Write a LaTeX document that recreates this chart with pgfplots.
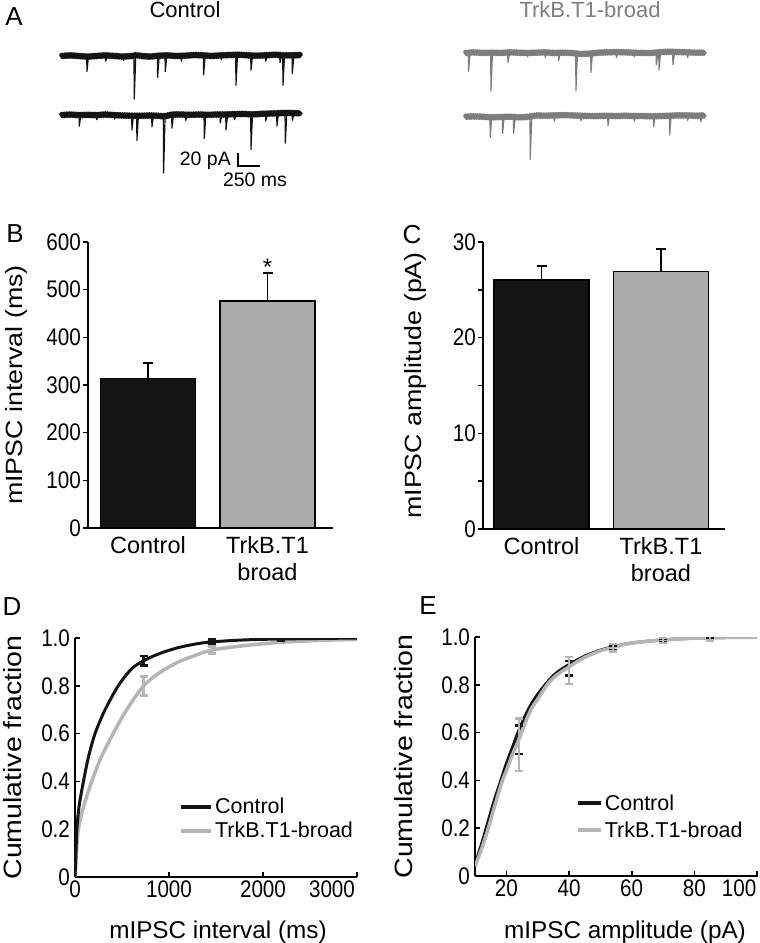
\documentclass[border=0pt]{standalone}
\usepackage{fontspec}
\setmainfont{Liberation Sans}
\newfontfamily\narrowfont[FakeStretch=0.86]{Liberation Sans}
\newfontfamily\tallfont[FakeStretch=1.14]{Liberation Sans}
\usepackage{pgfplots}
\pgfplotsset{compat=1.18}
\usetikzlibrary{decorations.pathmorphing}

\definecolor{ctrl}{HTML}{141414}
\definecolor{trkbar}{HTML}{ABABAB}
\definecolor{trktrace}{HTML}{7D7D7D}
\definecolor{trkline}{HTML}{B5B5B5}

\newcommand{\fs}[1]{\fontsize{#1}{#1}\selectfont}

\pgfplotsset{
  trace/.style={hide axis, clip=false, x=0.0889pt, y=0.65pt,
    xmin=0, xmax=2700, ymin=-200, ymax=10, anchor=north west,
    unbounded coords=jump},
  band/.style={line width=3.6pt, line join=round, line cap=round,
    decorate, decoration={zigzag, segment length=1.7pt, amplitude=1.6pt}},
  spike/.style={line width=1.2pt, line join=round},
  barpanel/.style={scale only axis, anchor=south west,
    axis lines=left, axis line style={-, line width=1.6pt},
    tick align=outside, major tick length=5pt, minor tick length=5pt,
    tick style={line width=1.6pt, black},
    xtick style={draw=none},
    /pgf/number format/assume math mode=true,
    yticklabel style={font=\fs{24}\narrowfont, inner sep=2pt},
    xticklabel style={font=\fontsize{23.5}{27}\selectfont, align=center},
    ylabel style={font=\fs{23.5}\tallfont},
    xtick={0,1}, xticklabels={Control,{TrkB.T1\\broad}}},
  barstyle/.style={ybar, bar width=0.795, line width=1.6pt, draw=black,
    error bars/y dir=plus, error bars/y explicit,
    error bars/error mark=-,
    error bars/error bar style={line width=1.6pt, black},
    error bars/error mark options={rotate=90, line width=1.6pt, mark size=5pt, black}},
  cdfpanel/.style={scale only axis, anchor=south west,
    axis lines=left, axis line style={-, line width=1.6pt},
    tick align=inside, major tick length=5pt,
    tick style={line width=1.6pt, black},
    /pgf/number format/assume math mode=true,
    scaled ticks=false,
    ymin=0, ymax=1, ytick={0,0.2,0.4,0.6,0.8,1},
    yticklabels={0,0.2,0.4,0.6,0.8,1.0},
    ticklabel style={font=\fs{24}\narrowfont},
    yticklabel style={xshift=-1.5pt},
    xlabel style={font=\fs{24.3}}, ylabel style={font=\fs{25}\tallfont},
    legend cell align=left,
    legend style={draw=none, fill=none, font=\fs{21.5},
      anchor=north west}},
  errcdf/.style={draw=none, mark=none, forget plot,
    error bars/y dir=both, error bars/y explicit,
    error bars/error mark=-,
    error bars/error bar style={line width=2.5pt, #1},
    error bars/error mark options={rotate=90, line width=2.5pt, mark size=4pt, #1}},
}

\begin{document}
\begin{tikzpicture}

% ---------- A: example traces ----------
\node[font=\fs{22}] at (185pt,-10pt) {Control};
\node[font=\fs{22}, text=trktrace] at (590pt,-10pt) {TrkB.T1-broad};

\begin{axis}[trace, at={(61pt,-49.5pt)}]
% top trace
\addplot[ctrl, band] coordinates {(0,0) (100,1) (200,0) (300,-1) (400,0) (500,1) (600,0) (700,-1) (800,0) (850,1.5) (900,0) (1000,-1) (1100,0.5) (1200,1) (1300,0) (1400,0.5) (1500,1.5) (1600,1) (1700,0) (1800,1) (1900,1.5) (2000,2) (2100,1) (2200,0.5) (2300,1) (2400,2) (2500,1) (2600,1) (2700,1.5)};
\addplot[ctrl, spike] coordinates {
(289,0) (292,-24) (309,0) (309,nan)
(500,0) (503,-8) (520,0) (520,nan)
(700,0) (703,-7) (720,0) (720,nan)
(821,0) (824,-66) (841,0) (841,nan)
(1084,0) (1087,-33) (1104,0) (1104,nan)
(1170,0) (1173,-24) (1190,0) (1190,nan)
(1350,0) (1353,-8) (1370,0) (1370,nan)
(1601,0) (1604,-29) (1621,0) (1621,nan)
(1800,0) (1803,-6) (1820,0) (1820,nan)
(1965,0) (1968,-45) (1985,0) (1985,nan)
(2134,0) (2137,-22) (2154,0) (2154,nan)
(2300,0) (2303,-8) (2320,0) (2320,nan)
(2460,0) (2463,-10) (2480,0) (2480,nan)
(2494,0) (2497,-45) (2514,0) (2514,nan)
(2599,0) (2602,-27) (2619,0) (2619,nan)};
% bottom trace
\addplot[ctrl, band] coordinates {(0,-91) (100,-90) (200,-91) (300,-90.5) (400,-91) (500,-90) (600,-91) (700,-91.5) (800,-92) (900,-92) (1000,-91.5) (1100,-92) (1160,-93) (1250,-90) (1350,-90) (1450,-90.5) (1550,-90) (1650,-90.5) (1750,-90) (1850,-90) (1950,-89.5) (2050,-89) (2150,-90) (2250,-89) (2350,-88.5) (2450,-88) (2550,-87.5) (2650,-88) (2700,-88)};
\addplot[ctrl, spike] coordinates {
(203,-91) (206,-108) (223,-91) (223,nan)
(400,-91) (403,-98) (420,-91) (420,nan)
(600,-91) (603,-97) (620,-91) (620,nan)
(795,-91) (798,-114) (815,-91) (815,nan)
(851,-91) (854,-130) (871,-91) (871,nan)
(1020,-91) (1023,-109) (1040,-91) (1040,nan)
(1151,-91) (1154,-180) (1171,-91) (1171,nan)
(1245,-91) (1248,-111) (1265,-91) (1265,nan)
(1400,-91) (1403,-99) (1420,-91) (1420,nan)
(1609,-91) (1612,-127) (1629,-91) (1629,nan)
(1789,-91) (1792,-103) (1809,-91) (1809,nan)
(1853,-91) (1856,-114) (1873,-91) (1873,nan)
(1950,-91) (1953,-98) (1970,-91) (1970,nan)
(2134,-90) (2137,-144) (2154,-90) (2154,nan)
(2300,-89) (2303,-100) (2320,-89) (2320,nan)
(2426,-88) (2429,-108) (2446,-88) (2446,nan)
(2520,-88) (2523,-134) (2540,-88) (2540,nan)
(2600,-88) (2603,-99) (2620,-88) (2620,nan)};
% scale bar: 20 pA, 250 ms
\addplot[black, line width=1.5pt] coordinates {(1991,-149) (1991,-169) (2241,-169)};
\node[font=\fs{19.5}, anchor=east] at (axis cs:1950,-161) {20 pA};
\node[font=\fs{19.5}] at (axis cs:2182,-191) {250 ms};
\end{axis}

\begin{axis}[trace, at={(465pt,-46.5pt)}]
\addplot[trktrace, band] coordinates {(0,0) (100,1) (200,0) (300,0.5) (400,0) (500,1) (600,0.5) (700,0) (800,0.5) (900,1) (1000,0) (1100,0.5) (1200,0) (1300,-1.5) (1400,-1) (1500,0.5) (1600,1) (1700,1.5) (1800,1) (1900,0.5) (2000,0) (2100,0) (2200,1.5) (2300,2) (2400,1.5) (2500,1) (2600,0.5) (2700,0.5)};
\addplot[trktrace, spike] coordinates {
(37,0) (40,-28) (57,0) (57,nan)
(289,0) (292,-59) (309,0) (309,nan)
(480,0) (483,-15) (500,0) (500,nan)
(700,0) (703,-6) (720,0) (720,nan)
(900,0) (903,-7) (920,0) (920,nan)
(1050,0) (1053,-12) (1070,0) (1070,nan)
(1245,0) (1248,-58) (1265,0) (1265,nan)
(1414,0) (1417,-30) (1434,0) (1434,nan)
(1700,0) (1703,-7) (1720,0) (1720,nan)
(1900,0) (1903,-6) (1920,0) (1920,nan)
(2149,0) (2152,-18) (2169,0) (2169,nan)
(2179,0) (2182,-26) (2199,0) (2199,nan)
(2336,0) (2339,-18) (2356,0) (2356,nan)
(2500,0) (2503,-7) (2520,0) (2520,nan)};
\addplot[trktrace, band] coordinates {(0,-98) (100,-97.5) (200,-98) (300,-99) (400,-98.5) (500,-98) (600,-99) (700,-98.5) (800,-96) (900,-96.5) (1000,-96) (1100,-95.5) (1200,-96) (1300,-96.5) (1400,-97) (1500,-97) (1600,-96.5) (1700,-97) (1800,-96.5) (1900,-97) (2000,-97) (2100,-97.5) (2200,-97) (2300,-96.5) (2400,-96) (2500,-96) (2600,-96.5) (2700,-96)};
\addplot[trktrace, spike] coordinates {
(281,-98) (284,-130) (301,-98) (301,nan)
(420,-98) (423,-124) (440,-98) (440,nan)
(544,-98) (547,-124) (564,-98) (564,nan)
(731,-98) (734,-164) (751,-98) (751,nan)
(1000,-96) (1003,-105) (1020,-96) (1020,nan)
(1300,-96) (1303,-104) (1320,-96) (1320,nan)
(1605,-96) (1608,-112) (1625,-96) (1625,nan)
(1900,-97) (1903,-105) (1920,-97) (1920,nan)
(2119,-97) (2122,-113) (2139,-97) (2139,nan)
(2299,-96) (2302,-126) (2319,-96) (2319,nan)
(2500,-96) (2503,-104) (2520,-96) (2520,nan)
(2650,-96) (2653,-106) (2670,-96) (2670,nan)};
\end{axis}

% ---------- B: interval ----------
\begin{axis}[barpanel, at={(88pt,-528pt)}, width=245pt, height=286pt,
  xmin=-0.502, xmax=1.548, ymin=0, ymax=600, ytick={0,100,...,600},
  ylabel={mIPSC interval (ms)},
  ylabel style={at={(axis description cs:-0.294,0.5)}, anchor=center}]
\addplot[barstyle, fill=ctrl] coordinates {(0,314) +- (0,32)};
\addplot[barstyle, fill=trkbar] coordinates {(1,476) +- (0,59)};
\node[font=\fs{24}] at (axis cs:1,548) {*};
\end{axis}

% ---------- C: amplitude ----------
\begin{axis}[barpanel, at={(483pt,-529pt)}, width=242pt, height=287pt,
  xmin=-0.49, xmax=1.536, ymin=0, ymax=30, ytick={0,10,20,30},
  minor ytick={5,15,25},
  ylabel={mIPSC amplitude (pA)},
  ylabel style={at={(axis description cs:-0.281,0.5)}, anchor=center}]
\addplot[barstyle, fill=ctrl] coordinates {(0,26.0) +- (0,1.5)};
\addplot[barstyle, fill=trkbar] coordinates {(1,26.9) +- (0,2.4)};
\end{axis}

% ---------- D: interval CDF ----------
\begin{axis}[cdfpanel, at={(75pt,-877pt)}, width=282pt, height=239pt,
  xmin=0, xmax=3000, xtick={0,1000,2000},
  xticklabels={0,1000,2000},
  extra x ticks={3000}, extra x tick labels={3000},
  extra x tick style={xticklabel style={xshift=-25pt}},
  xlabel={mIPSC interval (ms)}, ylabel={Cumulative fraction},
  xlabel style={at={(axis description cs:0.507,-0.230)}, anchor=center},
  ylabel style={at={(axis description cs:-0.222,0.5)}, anchor=center},
  legend style={at={(0.358,0.348)}, row sep=3pt}, reverse legend,
  legend image code/.code={\draw[#1, line width=4pt] (0pt,0pt) -- (30pt,0pt);}]
\addplot[trkline, line width=3.5pt, smooth] coordinates {(0,0) (15,0.1) (35,0.2) (96,0.3) (178,0.4) (277,0.5) (406,0.6) (550,0.7) (730,0.8) (900,0.855) (1100,0.9) (1300,0.93) (1460,0.95) (1800,0.968) (2190,0.982) (2600,0.99) (3000,0.994)};
\addlegendentry{TrkB.T1-broad}
\addplot[ctrl, line width=3pt, smooth] coordinates {(0,0) (10,0.1) (20,0.2) (45,0.3) (90,0.4) (142,0.5) (213,0.6) (320,0.7) (460,0.8) (600,0.87) (730,0.905) (900,0.935) (1100,0.96) (1300,0.976) (1460,0.984) (1800,0.992) (2190,0.996) (2600,0.998) (3000,1.0)};
\addlegendentry{Control}
\addplot[errcdf=trkline] coordinates {(730,0.80) +- (0,0.04) (1460,0.95) +- (0,0.015) (2190,0.988) +- (0,0.008)};
\addplot[errcdf=ctrl] coordinates {(730,0.905) +- (0,0.02) (1460,0.985) +- (0,0.008) (2190,0.996) +- (0,0.006)};
\end{axis}

% ---------- E: amplitude CDF ----------
\begin{axis}[cdfpanel, at={(475pt,-876pt)}, width=283pt, height=239pt,
  xmin=10, xmax=100.3, xtick={20,40,60,80},
  extra x ticks={100}, extra x tick labels={100},
  extra x tick style={xticklabel style={xshift=-18pt}},
  xlabel={mIPSC amplitude (pA)}, ylabel={Cumulative fraction},
  xlabel style={at={(axis description cs:0.53,-0.234)}, anchor=center},
  ylabel style={at={(axis description cs:-0.251,0.5)}, anchor=center},
  legend style={at={(0.345,0.358)}, row sep=6pt},
  legend image code/.code={\draw[#1, line width=4pt] (0pt,0pt) -- (23pt,0pt);}]
\addplot[ctrl, line width=3pt, smooth] coordinates {(10,0.05) (12,0.13) (14,0.22) (16,0.31) (18,0.39) (20,0.47) (22,0.54) (24,0.61) (26,0.67) (28,0.72) (30,0.76) (33,0.81) (36,0.85) (40,0.885) (45,0.92) (50,0.945) (55,0.962) (60,0.975) (70,0.988) (80,0.995) (90,0.998) (100,1.0)};
\addlegendentry{Control}
\addplot[trkline, line width=3.5pt, smooth] coordinates {(10,0.04) (12,0.11) (14,0.19) (16,0.28) (18.5,0.39) (20,0.44) (22,0.51) (24,0.57) (26,0.64) (28,0.70) (30,0.74) (33,0.80) (36,0.84) (40,0.875) (45,0.915) (50,0.942) (55,0.96) (60,0.975) (70,0.988) (80,0.995) (90,0.998) (100,0.999)};
\addlegendentry{TrkB.T1-broad}
\addplot[errcdf=ctrl] coordinates {(24,0.57) +- (0,0.06) (40,0.87) +- (0,0.03) (54,0.955) +- (0,0.01) (70,0.985) +- (0,0.008) (85,0.995) +- (0,0.006)};
\addplot[errcdf=trkline] coordinates {(24,0.55) +- (0,0.11) (40,0.86) +- (0,0.056) (54,0.955) +- (0,0.015) (70,0.985) +- (0,0.01) (85,0.995) +- (0,0.01)};
\end{axis}

% panel letters
\node[font=\fs{26}] at (14pt,-17pt) {A};
\node[font=\fs{26}] at (15pt,-234pt) {B};
\node[font=\fs{26}] at (412pt,-235pt) {C};
\node[font=\fs{26}] at (12pt,-607pt) {D};
\node[font=\fs{26}] at (428pt,-606pt) {E};

\pgfresetboundingbox
\useasboundingbox (0pt,0pt) rectangle (760pt,-943pt);
\end{tikzpicture}
\end{document}
